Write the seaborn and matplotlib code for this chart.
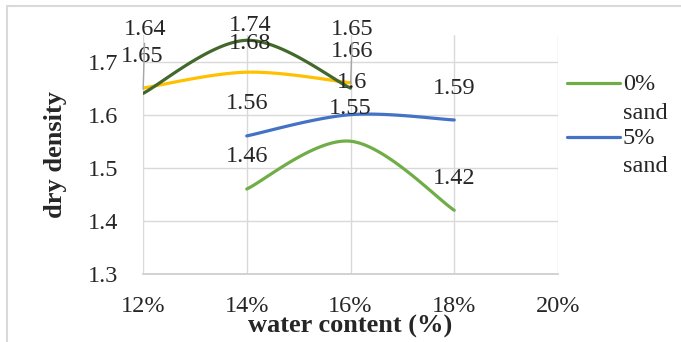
import numpy as np
import pandas as pd
import matplotlib
matplotlib.use("Agg")
import matplotlib.pyplot as plt
from matplotlib.lines import Line2D
import seaborn as sns

# Water content (%) and dry density for each mix
sand0_x = [14, 16, 18]
sand0_y = [1.46, 1.55, 1.42]
sand5_x = [14, 16, 18]
sand5_y = [1.56, 1.60, 1.59]
sand10_x = [12, 14, 16]
sand10_y = [1.65, 1.68, 1.66]
sand15_x = [12, 14, 16]
sand15_y = [1.64, 1.74, 1.65]

series_names = ["0% sand", "5% sand", "10% sand", "15% sand"]
series_colors = ["#70AD47", "#4472C4", "#FFC000", "#43682B"]
x_ticks = [12, 14, 16, 18, 20]
x_tick_labels = ["12%", "14%", "16%", "18%", "20%"]
y_ticks = [1.3, 1.4, 1.5, 1.6, 1.7]
y_tick_labels = ["1.3", "1.4", "1.5", "1.6", "1.7"]
legend_names = ["0% sand", "5% sand"]

sns.set_style("white")
plt.rcParams["font.family"] = ["Liberation Serif", "DejaVu Serif"]
FS = 17.5
FS_TITLE = 19


def smooth(xs, ys, n=60):
    """Smoothed curve through the points (cubic Bezier, Catmull-Rom tangents)."""
    pts = np.column_stack([xs, ys]).astype(float)
    ext = np.vstack([pts[0], pts, pts[-1]])
    t = np.linspace(0, 1, n)[:, None]
    out = []
    for i in range(len(pts) - 1):
        p0 = ext[i + 1]
        p3 = ext[i + 2]
        p1 = p0 + (ext[i + 2] - ext[i]) / 6.0
        p2 = p3 - (ext[i + 3] - ext[i + 1]) / 6.0
        seg = ((1 - t) ** 3) * p0 + 3 * ((1 - t) ** 2) * t * p1 \
            + 3 * (1 - t) * t ** 2 * p2 + t ** 3 * p3
        out.append(seg if i == 0 else seg[1:])
    return np.vstack(out)


raw = [(sand0_x, sand0_y), (sand5_x, sand5_y),
       (sand10_x, sand10_y), (sand15_x, sand15_y)]
frames = []
for name, (xs, ys) in zip(series_names, raw):
    c = smooth(xs, ys)
    frames.append(pd.DataFrame({"x": c[:, 0], "y": c[:, 1], "series": name}))
curves = pd.concat(frames, ignore_index=True)

fig = plt.figure(figsize=(6.81, 3.42), dpi=100)
ax = fig.add_axes([143 / 681, 68 / 342, 415 / 681, 239 / 342])

sns.lineplot(data=curves, x="x", y="y", hue="series", hue_order=series_names,
             palette=dict(zip(series_names, series_colors)), sort=False,
             estimator=None, linewidth=2.3, legend=False, ax=ax, zorder=3)

ax.set_xlim(12, 20)
ax.set_ylim(1.3, 1.75)
ax.set_xticks(x_ticks)
ax.set_xticklabels(x_tick_labels, fontsize=FS)
ax.set_yticks(y_ticks)
ax.set_yticklabels(y_tick_labels, fontsize=FS)
ax.tick_params(axis="both", length=0)
ax.tick_params(axis="y", pad=18)
ax.tick_params(axis="x", pad=15.5)
ax.grid(True, color="#d9d9d9", linewidth=1.0)
for s in ["top", "right", "left"]:
    ax.spines[s].set_visible(False)
ax.spines["bottom"].set_color("#cfcfcf")
ax.spines["bottom"].set_linewidth(1.3)

ax.set_xlabel("water content (%)", fontsize=FS_TITLE, fontweight="bold", labelpad=-1)
ax.set_ylabel("dry density", fontsize=FS_TITLE, fontweight="bold", labelpad=15)

# Data labels (offsets in pixels above each point)
label_offsets = {
    "0% sand": [(0, 33), (0, 33), (0, 32)],
    "5% sand": [(0, 32), (2, 32), (0, 31)],
    "10% sand": [(-1, 32), (3, 29), (2, 31)],
    "15% sand": [(2, 64), (3, 15), (2, 59)],
}
leader = {("15% sand", 0), ("15% sand", 2)}
for name, (xs, ys) in zip(series_names, raw):
    for i, (xv, yv) in enumerate(zip(xs, ys)):
        dx, dy = label_offsets[name][i]
        kw = {}
        if (name, i) in leader:
            kw["arrowprops"] = dict(arrowstyle="-", color="#a6a6a6", lw=1.0,
                                    shrinkA=0, shrinkB=3)
        ax.annotate(f"{yv:g}", xy=(xv, yv), xytext=(dx, dy),
                    textcoords="offset pixels", ha="center", va="center",
                    fontsize=FS, zorder=5, annotation_clip=False, **kw)

# Legend entries
legend_rows = [83, 137]
for name, row in zip(legend_names, legend_rows):
    color = series_colors[series_names.index(name)]
    fig.add_artist(Line2D([567 / 681, 620 / 681], [1 - row / 342] * 2,
                          transform=fig.transFigure, color=color, lw=2.3))
    for k, word in enumerate(name.split()):
        fig.text(623 / 681, 1 - (row + 2 + 28 * k) / 342, word, fontsize=FS,
                 ha="left", va="center")

# Chart area border
fig.add_artist(Line2D([6.5 / 681, 6.5 / 681, 1.0], [0, 1 - 5.5 / 342, 1 - 5.5 / 342],
                      transform=fig.transFigure, color="#d9d9d9", lw=1.5))

fig.savefig("out.png", dpi=100)
